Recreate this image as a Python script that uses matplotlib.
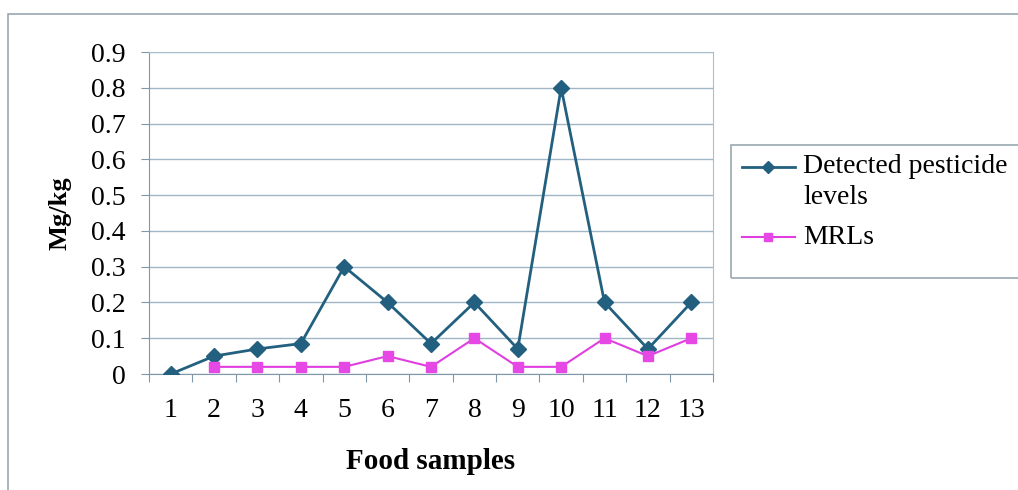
import matplotlib.pyplot as plt
from matplotlib.patches import Rectangle
from matplotlib.lines import Line2D

plt.rcParams['font.family'] = ['Liberation Serif', 'DejaVu Serif']

samples = list(range(1, 14))
detected = [0, 0.05, 0.07, 0.085, 0.3, 0.2, 0.085, 0.2, 0.07, 0.8, 0.2, 0.07, 0.2]
mrl_samples = list(range(2, 14))
mrls = [0.02, 0.02, 0.02, 0.02, 0.05, 0.02, 0.1, 0.02, 0.02, 0.1, 0.05, 0.1]
yticks = [0, 0.1, 0.2, 0.3, 0.4, 0.5, 0.6, 0.7, 0.8, 0.9]

W, H = 1018, 490
fig = plt.figure(figsize=(W / 100, H / 100), dpi=100)


def fx(px):
    return px / W


def fy(px):
    return 1 - px / H


# chart area frame (runs off the right and bottom edges)
fig.patches.append(Rectangle((fx(8), -0.05), 1.1, fy(14) + 0.05,
                             transform=fig.transFigure, fill=False,
                             edgecolor='#9aa8b0', linewidth=1.2))
# legend box
fig.patches.append(Rectangle((fx(731), fy(278)), 0.4, 133 / H,
                             transform=fig.transFigure, fill=False,
                             edgecolor='#9aa8b0', linewidth=1.2))

ax = fig.add_axes([fx(149), fy(374), 564 / W, 322 / H])

blue, pink, pink_line = '#23607f', '#e548e5', '#e03ee0'
ax.plot(samples, detected, color=blue, lw=2, marker='D', ms=8, zorder=3)
ax.plot(mrl_samples, mrls, color=pink_line, lw=1.5, marker='s', ms=7.5,
        markerfacecolor=pink, markeredgecolor=pink, zorder=3)

ax.set_xlim(0.5, 13.5)
ax.set_ylim(0, 0.9)
ax.set_yticks(yticks)
ax.set_yticklabels(['0' if v == 0 else f'{v:.1f}' for v in yticks], fontsize=20)
ax.yaxis.grid(True, color='#9fb6c6', lw=1)
ax.set_axisbelow(True)

# tick marks between categories, labels on categories
ax.set_xticks([i + 0.5 for i in range(0, 14)])
ax.set_xticklabels([])
ax.set_xticks(samples, minor=True)
ax.set_xticklabels([str(s) for s in samples], minor=True, fontsize=20)
ax.tick_params(axis='x', which='major', length=6, color='#7f97a8')
ax.tick_params(axis='x', which='minor', length=0, pad=17)
ax.tick_params(axis='y', length=6, color='#7f97a8', pad=11)

for side in ['left', 'bottom']:
    ax.spines[side].set_color('#7f97a8')
for side in ['top', 'right']:
    ax.spines[side].set_color('#a9bfcc')

ax.set_xlabel('Food samples', fontsize=21, fontweight='bold', labelpad=18)
ax.set_ylabel('Mg/kg', fontsize=19, fontweight='bold', labelpad=14)

# legend entries, handle beside the first line of the wrapped label
fig.add_artist(Line2D([fx(742), fx(795)], [fy(167), fy(167)], color=blue,
                      lw=2, transform=fig.transFigure))
fig.add_artist(Line2D([fx(768)], [fy(167)], color=blue, marker='D', ms=6,
                      transform=fig.transFigure))
fig.add_artist(Line2D([fx(742), fx(795)], [fy(237), fy(237)], color=pink_line,
                      lw=1.5, transform=fig.transFigure))
fig.add_artist(Line2D([fx(768)], [fy(237)], color=pink, marker='s', ms=6,
                      transform=fig.transFigure))
fig.text(fx(803), fy(166), 'Detected pesticide', fontsize=20, va='center')
fig.text(fx(803), fy(198), 'levels', fontsize=20, va='center')
fig.text(fx(803), fy(237), 'MRLs', fontsize=20, va='center')

fig.savefig('out.png', dpi=100)
